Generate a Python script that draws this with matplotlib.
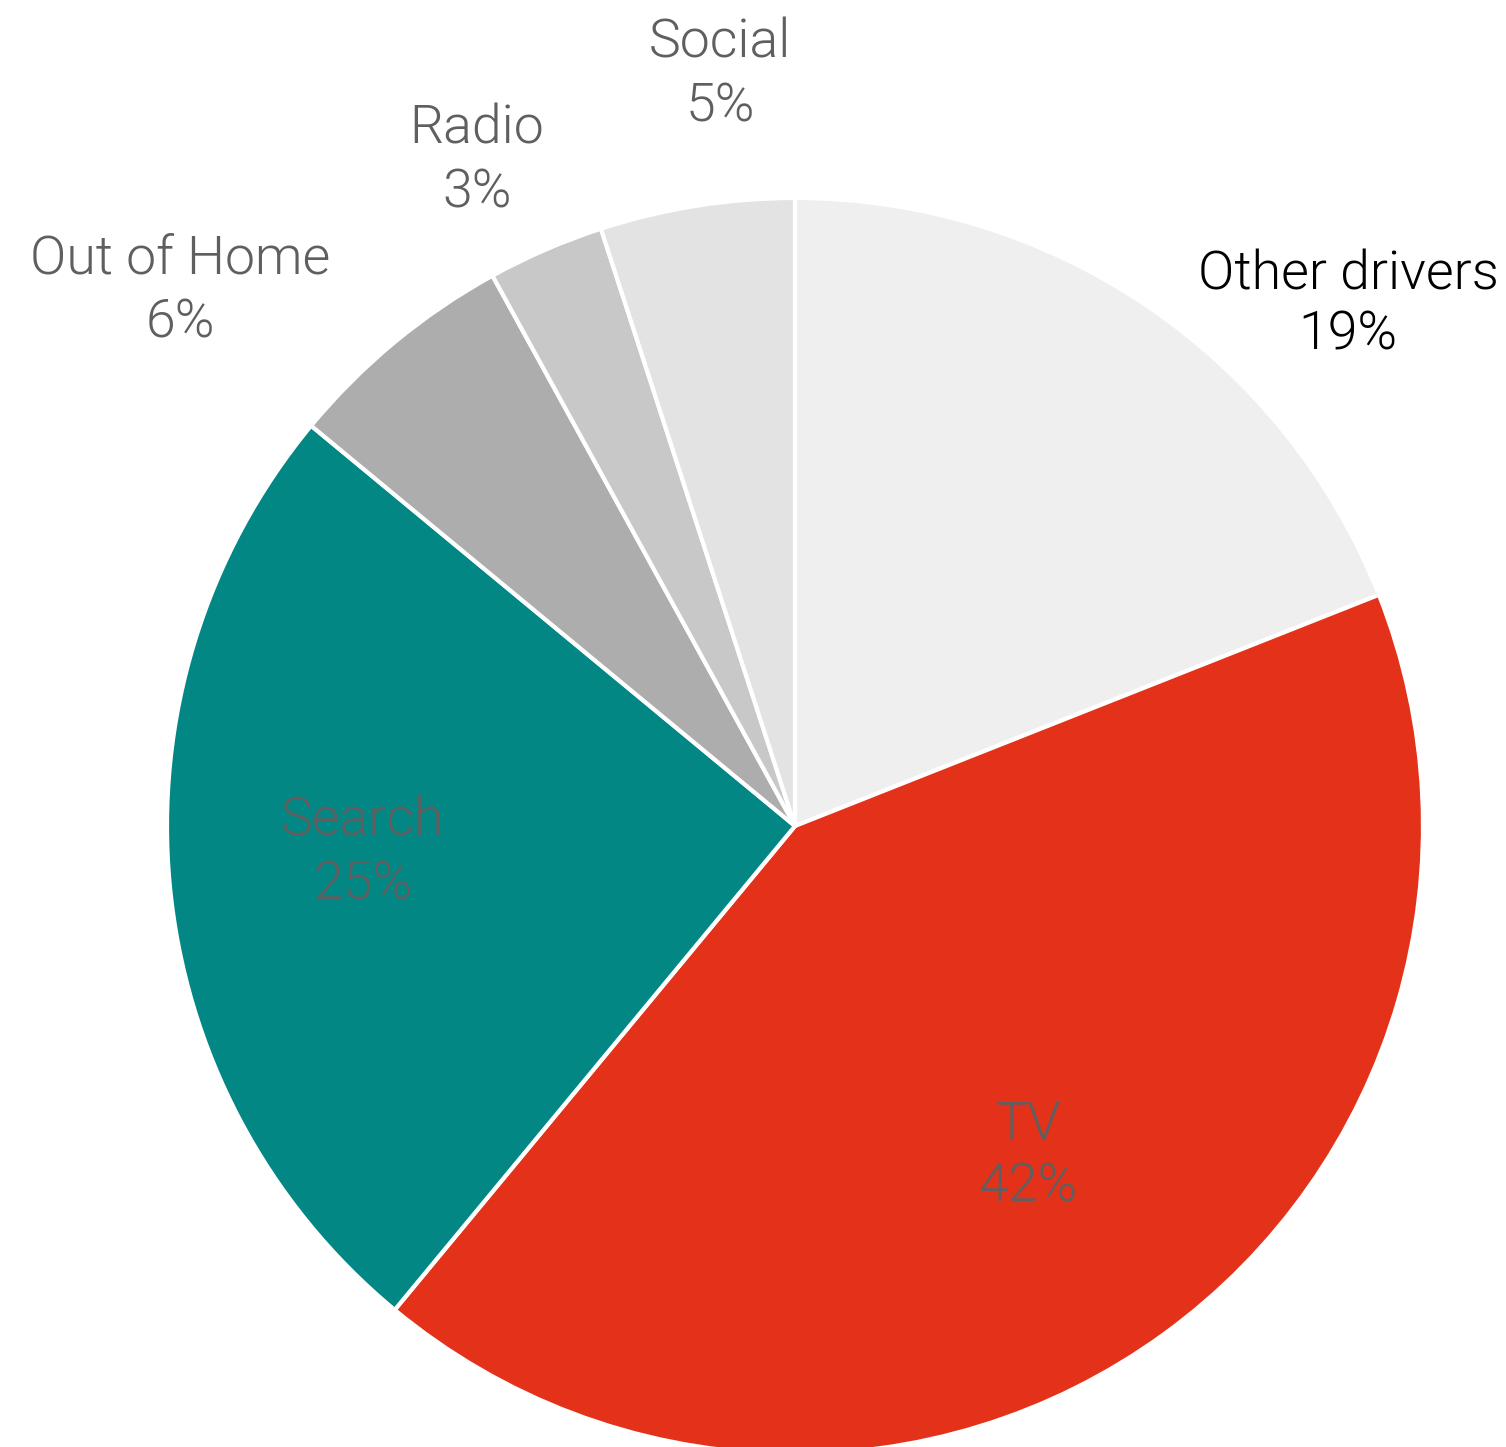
import matplotlib
matplotlib.use("Agg")
import matplotlib.pyplot as plt

# Share of sales driven by each channel (%)
channels = ["Other drivers", "TV", "Search", "Out of Home", "Radio", "Social"]
shares = [19, 42, 25, 6, 3, 5]
colors = ["#efefef", "#e4321a", "#028785", "#adadad", "#c8c8c8", "#e3e3e3"]
label_colors = ["#000000", "#5f5f5f", "#5f5f5f", "#5f5f5f", "#5f5f5f", "#5f5f5f"]

W, H = 1506, 1447
fig = plt.figure(figsize=(W / 100, H / 100), dpi=100)
ax = fig.add_axes([0, 0, 1, 1])

cx, cy, R = 795, H - 826, 628
ax.pie(shares, colors=colors, startangle=90, counterclock=False,
       center=(cx, cy), radius=R, frame=True,
       wedgeprops=dict(edgecolor="white", linewidth=3))
ax.set_xlim(0, W)
ax.set_ylim(0, H)
ax.set_aspect("equal")
ax.axis("off")

# label anchor points (x, baseline of name, baseline of value) in pixel space
label_pos = {
    "Other drivers": (1348, 290, 350),
    "TV": (1028, 1140, 1202),
    "Search": (363, 836, 899),
    "Out of Home": (180, 274, 338),
    "Radio": (477, 143, 207),
    "Social": (720, 58, 121),
}

font = dict(family="Roboto", weight=300, fontsize=38.6)
for name, val, col in zip(channels, shares, label_colors):
    x, y1, y2 = label_pos[name]
    ax.text(x, H - y1, name, ha="center", va="baseline", color=col, **font)
    ax.text(x, H - y2, f"{val}%", ha="center", va="baseline", color=col, **font)

fig.savefig("out.png", dpi=100, facecolor="white")
